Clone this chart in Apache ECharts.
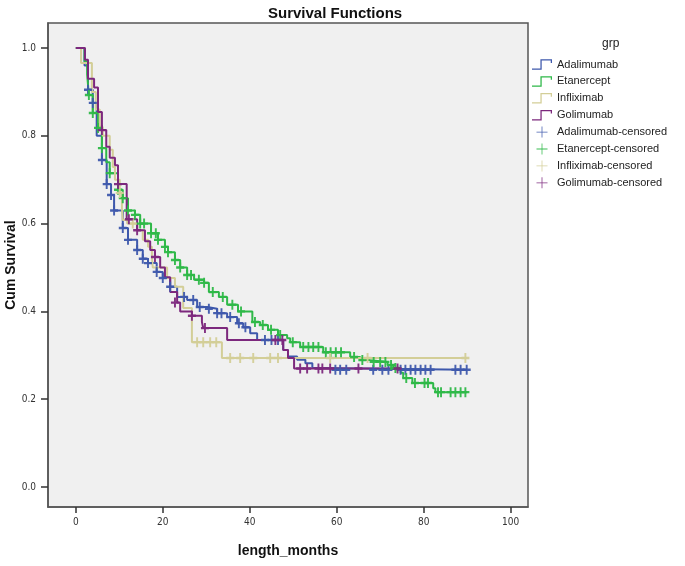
<!DOCTYPE html>
<html><head><meta charset="utf-8">
<script src="https://cdn.jsdelivr.net/npm/echarts@6/dist/echarts.min.js"></script>
<style>html,body{margin:0;padding:0;background:#fff}#c{width:685px;height:566px}</style>
</head><body><div id="c"></div>
<script>
// ---- data (months, cumulative survival) ----
var groups = ['Adalimumab', 'Etanercept', 'Infliximab', 'Golimumab'];
var xTicks = [0, 20, 40, 60, 80, 100];
var yTicks = [0, 0.2, 0.4, 0.6, 0.8, 1.0];

var adalimumabSteps = [[0,1],[2.0,0.96],[2.8,0.905],[3.9,0.875],[4.8,0.80],[6.0,0.745],[7.1,0.69],[8.1,0.665],[8.8,0.63],[10.8,0.59],[12.0,0.563],[14.1,0.54],[15.4,0.52],[16.6,0.51],[18.6,0.49],[20.0,0.476],[21.7,0.456],[23.3,0.433],[25.6,0.426],[27.9,0.41],[30.2,0.406],[32.5,0.396],[34.8,0.387],[37.1,0.373],[38.5,0.364],[40.1,0.35],[41.7,0.335],[47.7,0.312],[48.8,0.297],[50.9,0.29],[52.8,0.282],[54.4,0.271],[55.5,0.267],[90,0.267]];
var etanerceptSteps = [[0,1],[2.0,0.97],[2.6,0.94],[3.0,0.893],[3.9,0.852],[5.1,0.818],[6.0,0.772],[7.0,0.74],[7.8,0.715],[9.7,0.677],[10.8,0.658],[12.0,0.63],[13.6,0.62],[14.8,0.60],[17.3,0.578],[18.9,0.563],[20.5,0.547],[21.2,0.535],[22.8,0.517],[24.0,0.50],[25.6,0.483],[27.2,0.472],[29.5,0.465],[30.6,0.444],[32.9,0.433],[34.8,0.415],[37.3,0.40],[40.6,0.376],[42.4,0.369],[44.2,0.358],[46.5,0.346],[48.6,0.339],[49.3,0.33],[51.6,0.319],[56.9,0.307],[63.1,0.296],[65.4,0.289],[67.7,0.285],[71.7,0.278],[73.0,0.271],[74.7,0.26],[75.3,0.248],[77.4,0.237],[82.2,0.225],[82.7,0.216],[90,0.216]];
var infliximabSteps = [[0,1],[1.2,0.966],[3.7,0.90],[4.6,0.86],[5.5,0.82],[6.2,0.80],[7.8,0.768],[8.5,0.729],[9.0,0.70],[10.1,0.67],[10.6,0.635],[10.8,0.608],[11.8,0.60],[14.1,0.585],[15.4,0.563],[16.6,0.547],[17.5,0.524],[17.7,0.50],[21.0,0.476],[22.8,0.456],[24.7,0.408],[26.7,0.33],[33.6,0.294],[90,0.294]];
var golimumabSteps = [[0,1],[2.1,0.973],[2.8,0.93],[4.2,0.91],[5.1,0.854],[6.0,0.813],[7.0,0.775],[7.8,0.75],[9.0,0.733],[9.7,0.69],[11.7,0.61],[14.1,0.585],[15.9,0.56],[17.1,0.54],[18.2,0.524],[19.4,0.50],[20.5,0.478],[21.7,0.444],[23.3,0.42],[24.0,0.40],[26.7,0.39],[29.0,0.376],[29.3,0.362],[34.8,0.335],[47.7,0.312],[48.8,0.294],[50.2,0.27],[74.6,0.27]];

var adalimumabCensored = [[2.8,0.905],[3.9,0.875],[6.0,0.745],[7.1,0.69],[8.1,0.665],[8.8,0.63],[10.8,0.59],[12.0,0.563],[14.1,0.54],[15.4,0.52],[16.6,0.51],[18.6,0.49],[20.0,0.476],[21.7,0.456],[24.9,0.433],[27.0,0.426],[28.5,0.41],[30.6,0.406],[32.5,0.396],[33.5,0.396],[35.5,0.387],[37.5,0.373],[39.0,0.364],[43.5,0.335],[45.0,0.335],[46.5,0.335],[59.7,0.267],[60.8,0.267],[62.2,0.267],[68.4,0.267],[70.5,0.267],[71.9,0.267],[74.7,0.267],[75.8,0.267],[77.0,0.267],[78.1,0.267],[79.3,0.267],[80.4,0.267],[81.6,0.267],[87.3,0.267],[88.5,0.267],[89.9,0.267]];
var etanerceptCensored = [[3.0,0.893],[3.9,0.852],[5.1,0.818],[6.0,0.772],[7.8,0.715],[9.7,0.677],[10.8,0.658],[12.0,0.63],[13.6,0.62],[14.8,0.60],[15.7,0.60],[17.3,0.578],[18.4,0.578],[18.9,0.563],[20.5,0.547],[21.2,0.535],[22.8,0.517],[24.0,0.50],[25.6,0.483],[26.5,0.483],[28.3,0.472],[29.5,0.465],[31.5,0.444],[33.8,0.433],[36.0,0.415],[38.0,0.40],[41.2,0.376],[43.0,0.369],[44.9,0.358],[47.0,0.346],[49.9,0.33],[52.3,0.319],[53.5,0.319],[54.6,0.319],[55.8,0.319],[57.5,0.307],[58.6,0.307],[59.8,0.307],[61.0,0.307],[64.0,0.296],[65.9,0.289],[68.5,0.285],[70.0,0.285],[71.2,0.285],[72.5,0.278],[73.5,0.271],[76.0,0.248],[78.0,0.237],[80.2,0.237],[81.0,0.237],[83.3,0.216],[84.0,0.216],[86.2,0.216],[87.3,0.216],[88.5,0.216],[89.6,0.216]];
var infliximabCensored = [[10.1,0.67],[13.1,0.60],[27.9,0.33],[29.3,0.33],[30.9,0.33],[32.3,0.33],[35.5,0.294],[37.8,0.294],[40.8,0.294],[44.7,0.294],[46.5,0.294],[58.5,0.294],[67.1,0.294],[89.6,0.294]];
var golimumabCensored = [[6.0,0.813],[9.7,0.69],[12.2,0.61],[14.1,0.585],[18.2,0.524],[22.8,0.42],[26.7,0.39],[29.7,0.362],[45.9,0.335],[47.5,0.335],[51.6,0.27],[53.2,0.27],[55.8,0.27],[56.7,0.27],[58.5,0.27],[65.0,0.27],[74.0,0.27]];

var colors = ['#3E58AC', '#2EB848', '#D3CE97', '#7C287D'];
var steps = [adalimumabSteps, etanerceptSteps, infliximabSteps, golimumabSteps];
var censored = [adalimumabCensored, etanerceptCensored, infliximabCensored, golimumabCensored];

var crossPath = 'path://M3.8,0h2.4v3.8h3.8v2.4h-3.8v3.8h-2.4v-3.8h-3.8v-2.4h3.8z';
var stepIcon = 'path://M0,8.8L8,8.8L8,0L19,0L19,3.5L17.8,3.5L17.8,1.2L9.2,1.2L9.2,10L0,10Z';
var legendCross = 'path://M9.3,0h1.4v9.3h9.3v1.4h-9.3v9.3h-1.4v-9.3h-9.3v-1.4h9.3z';

var series = [], legendData = [];
groups.forEach(function (g, i) {
  series.push({
    name: g, type: 'line', step: 'end', data: steps[i], symbol: 'none',
    color: colors[i], lineStyle: { color: colors[i], width: 2 }, itemStyle: { color: colors[i] },
    z: 2 + i, silent: true, animation: false
  });
  legendData.push({ name: g, icon: stepIcon });
});
groups.forEach(function (g, i) {
  series.push({
    name: g + '-censored', type: 'scatter', data: censored[i], symbol: crossPath,
    symbolSize: [8, 10], color: colors[i], itemStyle: { color: colors[i], opacity: 0.95 },
    z: 6 + i, silent: true, animation: false
  });
  legendData.push({ name: g + '-censored', icon: legendCross });
});

var tickFont = { fontFamily: '"Liberation Sans Narrow", "DejaVu Sans Condensed", sans-serif', fontSize: 10, color: '#333' };

var chart = echarts.init(document.getElementById('c'), null, { renderer: 'canvas' });
chart.setOption({
  animation: false,
  backgroundColor: '#ffffff',
  title: [
    { text: 'Survival Functions', left: 263, top: 1,
      textStyle: { fontFamily: 'Liberation Sans, Arial, sans-serif', fontSize: 15, fontWeight: 'bold', color: '#111' } },
    { text: 'grp', left: 597, top: 33,
      textStyle: { fontFamily: 'Liberation Sans, Arial, sans-serif', fontSize: 12, fontWeight: 'normal', color: '#222' } }
  ],
  legend: {
    orient: 'vertical', left: 532, top: 59, padding: 0, itemWidth: 20, itemHeight: 11, itemGap: 5.9,
    data: legendData,
    textStyle: { fontFamily: 'Liberation Sans, Arial, sans-serif', fontSize: 11, color: '#222' },
    selectedMode: false
  },
  grid: { left: 48, top: 23, right: 157, bottom: 59, containLabel: false, outerBoundsMode: 'none',
    show: true, backgroundColor: '#F0F0F0', borderColor: '#555', borderWidth: 1.5 },
  xAxis: {
    type: 'value', min: -6.4, max: 104,
    name: 'length_months', nameLocation: 'middle', nameGap: 37, nameMoveOverlap: false,
    nameTextStyle: { fontFamily: 'Liberation Sans, Arial, sans-serif', fontSize: 14, fontWeight: 'bold', color: '#111' },
    splitLine: { show: false },
    axisLine: { show: true, onZero: false, lineStyle: { color: '#555', width: 1.5 } },
    axisTick: { show: true, length: 6, customValues: xTicks, lineStyle: { color: '#333', width: 1.5 } },
    axisLabel: Object.assign({ margin: 10, customValues: xTicks, formatter: function (v) { return String(v); } }, tickFont)
  },
  yAxis: {
    type: 'value', min: -0.0456, max: 1.057,
    name: 'Cum Survival', nameLocation: 'middle', nameGap: 30, nameRotate: 90, nameMoveOverlap: false,
    nameTextStyle: { fontFamily: 'Liberation Sans, Arial, sans-serif', fontSize: 14, fontWeight: 'bold', color: '#111' },
    splitLine: { show: false },
    axisLine: { show: true, onZero: false, lineStyle: { color: '#555', width: 1.5 } },
    axisTick: { show: true, length: 7, customValues: yTicks, lineStyle: { color: '#333', width: 1.5 } },
    axisLabel: Object.assign({ margin: 12, customValues: yTicks, formatter: function (v) { return v.toFixed(1); } }, tickFont)
  },
  series: series
});
</script></body></html>
